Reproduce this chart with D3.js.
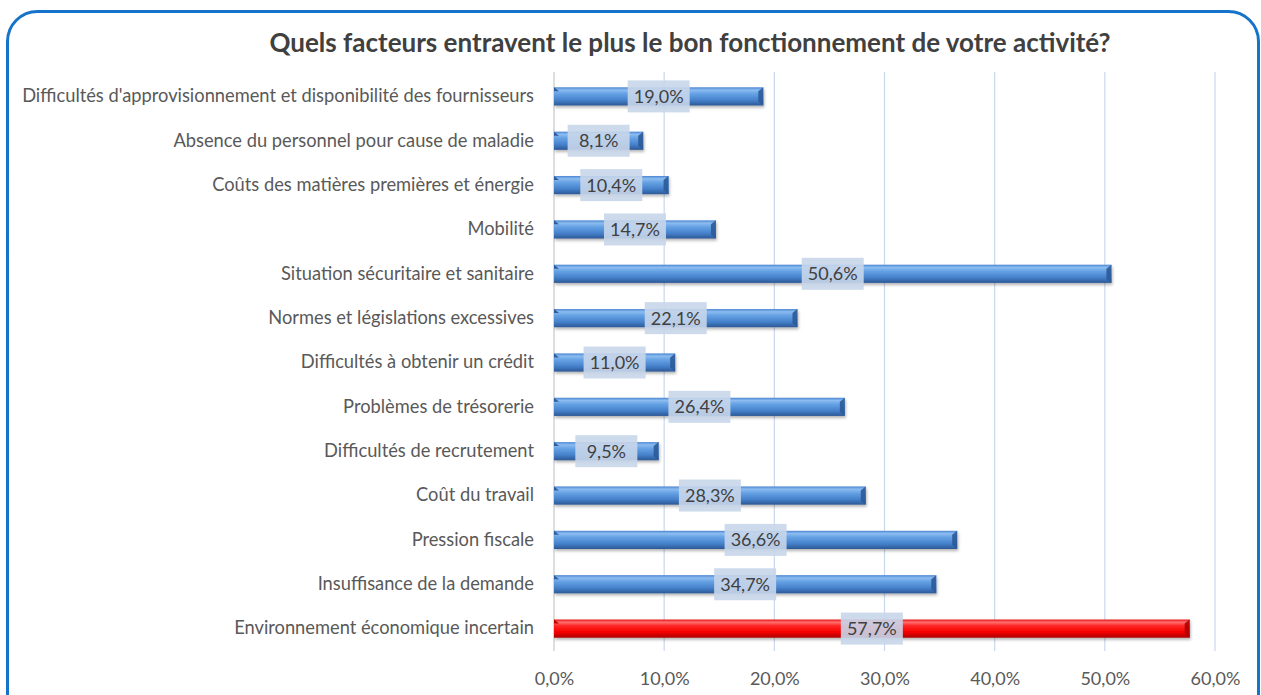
<!DOCTYPE html>
<html><head><meta charset="utf-8">
<script src="https://cdn.jsdelivr.net/npm/d3@7"></script>
<style>
html,body{margin:0;padding:0;background:#fff;}
svg{display:block;font-family:Lato,"Open Sans",sans-serif;}
</style></head>
<body>
<svg id="chart" width="1261" height="695"></svg>
<script>
const title = "Quels facteurs entravent le plus le bon fonctionnement de votre activité?";
const categories = [
  "Difficultés d'approvisionnement et disponibilité des fournisseurs",
  "Absence du personnel pour cause de maladie",
  "Coûts des matières premières et énergie",
  "Mobilité",
  "Situation sécuritaire et sanitaire",
  "Normes et législations excessives",
  "Difficultés à obtenir un crédit",
  "Problèmes de trésorerie",
  "Difficultés de recrutement",
  "Coût du travail",
  "Pression fiscale",
  "Insuffisance de la demande",
  "Environnement économique incertain"
];
const values = [19.0, 8.1, 10.4, 14.7, 50.6, 22.1, 11.0, 26.4, 9.5, 28.3, 36.6, 34.7, 57.7];
const highlighted = ["Environnement économique incertain"];
const xTicks = [0, 10, 20, 30, 40, 50, 60];

const svg = d3.select("#chart");
const fmt = v => d3.format(".1f")(v).replace(".", ",") + "%";

// frame
svg.append("rect").attr("x", 7.5).attr("y", 11.5).attr("width", 1251).attr("height", 720)
  .attr("rx", 30).attr("ry", 30).attr("fill", "#fff").attr("stroke", "#1573c9").attr("stroke-width", 3);

const defs = svg.append("defs");
function grad(id, stops) {
  const g = defs.append("linearGradient").attr("id", id).attr("x1", 0).attr("y1", 0).attr("x2", 0).attr("y2", 1);
  stops.forEach(s => g.append("stop").attr("offset", s[0]).attr("stop-color", s[1]));
}
grad("gBlue", [[0, "#4a86d2"], [0.15, "#8cbcf0"], [0.35, "#66a2e4"], [0.7, "#4682cc"], [1, "#2c5896"]]);
grad("gRed", [[0, "#e81010"], [0.15, "#ff7070"], [0.35, "#ff2424"], [0.7, "#f50000"], [1, "#aa0000"]]);
const f = defs.append("filter").attr("id", "shadow").attr("x", "-5%").attr("y", "-50%").attr("width", "110%").attr("height", "220%");
f.append("feDropShadow").attr("dx", 1).attr("dy", 2).attr("stdDeviation", 1.5).attr("flood-color", "#000").attr("flood-opacity", 0.3);

const x = d3.scaleLinear().domain([0, 60]).range([554, 1215]);
const y = d3.scaleBand().domain(categories).range([74, 651]).paddingInner(0.59).paddingOuter(0.3);

// gridlines
svg.append("g").selectAll("line").data(xTicks.slice(1)).join("line")
  .attr("x1", d => x(d)).attr("x2", d => x(d)).attr("y1", 72).attr("y2", 651)
  .attr("stroke", "#c9d8ec").attr("stroke-width", 1.2);
svg.append("line").attr("x1", x(0)).attr("x2", x(0)).attr("y1", 72).attr("y2", 651)
  .attr("stroke", "#c8c8c8").attr("stroke-width", 1.2);

// x axis
const xAxis = svg.append("g").attr("transform", "translate(0,651)")
  .call(d3.axisBottom(x).tickValues(xTicks).tickSize(0).tickPadding(21).tickFormat(d => fmt(d)));
xAxis.select(".domain").remove();
xAxis.selectAll("text").attr("font-size", 18).attr("fill", "#595959").attr("font-family", "Lato,sans-serif");

// y axis
const yAxis = svg.append("g").attr("transform", "translate(" + x(0) + ",0)")
  .call(d3.axisLeft(y).tickSize(0).tickPadding(20));
yAxis.select(".domain").remove();
yAxis.selectAll("text").attr("font-size", 18.3).attr("fill", "#595959").attr("font-family", "Lato,sans-serif");

// bars
const data = categories.map((c, i) => ({ c, v: values[i], hi: highlighted.includes(c) }));
const bars = svg.append("g").selectAll("g").data(data).join("g");
bars.append("rect")
  .attr("x", x(0)).attr("y", d => y(d.c)).attr("width", d => x(d.v) - x(0)).attr("height", y.bandwidth())
  .attr("fill", d => d.hi ? "url(#gRed)" : "url(#gBlue)").attr("filter", "url(#shadow)");
// bevelled end cap
bars.append("path")
  .attr("d", d => {
    const xe = x(d.v), t = y(d.c), b = t + y.bandwidth();
    return `M${xe - 5},${t + 4} L${xe},${t} L${xe},${b} L${xe - 5},${b - 4} Z`;
  })
  .attr("fill", d => d.hi ? "#b00000" : "#2c5a98").attr("opacity", 0.9);
bars.append("path")
  .attr("d", d => {
    const x0 = x(0), t = y(d.c);
    return `M${x0},${t} L${x0 + 5},${t + 4} L${x0},${t + 4} Z`;
  })
  .attr("fill", d => d.hi ? "#c00000" : "#2e5c9c");

// labels
const labels = svg.append("g").selectAll("g").data(data).join("g")
  .attr("transform", d => `translate(${(x(0) + x(d.v)) / 2},${y(d.c) + y.bandwidth() / 2})`);
labels.append("rect").attr("x", -31).attr("y", -16).attr("width", 62).attr("height", 32)
  .attr("fill", "#c8d6ea").attr("opacity", 0.9);
labels.append("text").attr("text-anchor", "middle").attr("dy", "0.36em")
  .attr("font-size", 18).attr("fill", "#404040").text(d => fmt(d.v));

// title
svg.append("text").attr("x", 690).attr("y", 52).attr("text-anchor", "middle")
  .attr("font-size", 26).attr("font-weight", "bold").attr("fill", "#404040").text(title);
</script>
</body></html>
